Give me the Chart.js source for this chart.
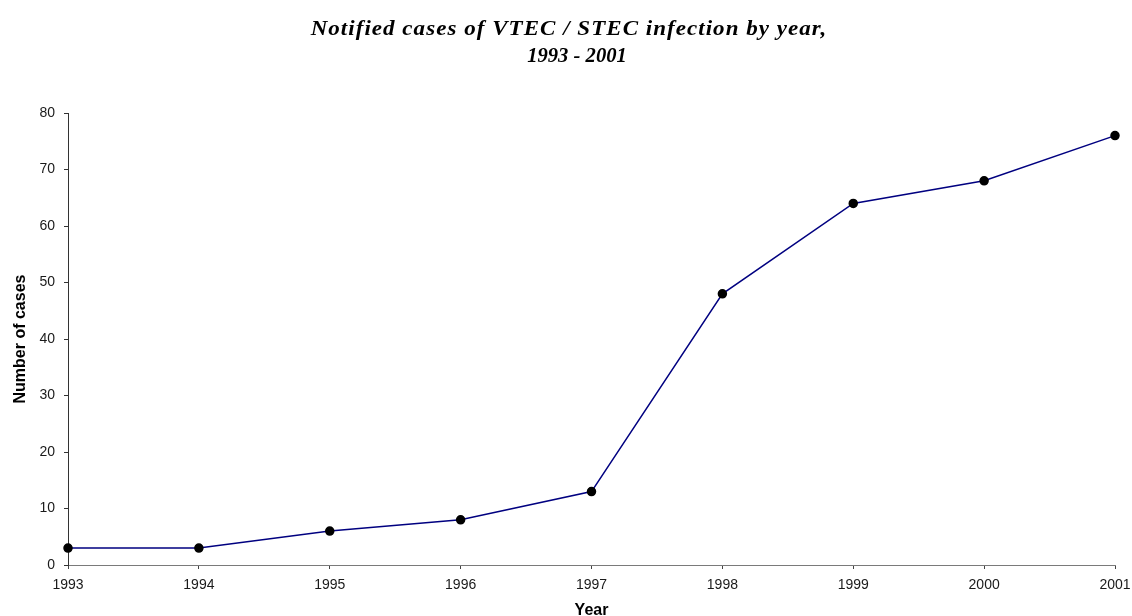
<!DOCTYPE html>
<html>
<head>
<meta charset="utf-8">
<script src="https://cdn.jsdelivr.net/npm/chart.js@4/dist/chart.umd.min.js"></script>
<style>
  html, body { margin: 0; padding: 0; background: #fff; }
  #wrap { width: 1132px; height: 616px; }
</style>
</head>
<body>
<div id="wrap"><canvas id="c" width="1132" height="616"></canvas></div>
<script>
const years = ['1993', '1994', '1995', '1996', '1997', '1998', '1999', '2000', '2001'];
const cases = [3, 3, 6, 8, 13, 48, 64, 68, 76];
const titleLines = ['Notified cases of VTEC / STEC infection by year,', '1993 - 2001'];

// Two-line italic serif heading, slightly widened
const headingPlugin = {
  id: 'heading',
  afterDraw(chart) {
    const ctx = chart.ctx;
    const specs = [
      { text: titleLines[0], x: 569, y: 35, stretch: 1.15, spacing: '0.9px' },
      { text: titleLines[1], x: 577, y: 62, stretch: 1.03, spacing: '0px' }
    ];
    ctx.save();
    ctx.fillStyle = '#000';
    ctx.font = 'italic bold 20px "Liberation Serif"';
    ctx.textAlign = 'center';
    ctx.textBaseline = 'alphabetic';
    specs.forEach(s => {
      ctx.save();
      if ('letterSpacing' in ctx) ctx.letterSpacing = s.spacing;
      ctx.translate(s.x, s.y);
      ctx.scale(s.stretch, 1);
      ctx.fillText(s.text, 0, 0);
      ctx.restore();
    });
    ctx.restore();
  }
};

new Chart(document.getElementById('c'), {
  type: 'line',
  data: {
    labels: years,
    datasets: [{
      data: cases,
      borderColor: '#000080',
      borderWidth: 1.5,
      pointBackgroundColor: '#000',
      pointBorderColor: '#000',
      pointRadius: 4,
      pointHoverRadius: 4,
      tension: 0,
      clip: false
    }]
  },
  plugins: [headingPlugin],
  options: {
    responsive: false,
    animation: false,
    layout: { padding: { left: 0, right: 0, top: 113, bottom: 0 } },
    plugins: {
      legend: { display: false },
      tooltip: { enabled: false },
      title: { display: false }
    },
    scales: {
      x: {
        offset: false,
        border: { display: true, color: '#7a7a7a', width: 1 },
        grid: { display: true, drawOnChartArea: false, drawTicks: true, tickLength: 4, color: '#444' },
        ticks: { color: '#1a1a1a', font: { family: 'Liberation Sans', size: 14 }, padding: 8, maxRotation: 0, autoSkip: false },
        title: { display: true, text: 'Year', color: '#000', font: { family: 'Liberation Sans', size: 16, weight: 'bold', lineHeight: 0.75 }, padding: { top: 0, bottom: -1 } },
        afterFit: s => { s.height = 51; s.paddingRight = 17; s.paddingLeft = 0; }
      },
      y: {
        min: 0, max: 80,
        border: { display: true, color: '#333', width: 1 },
        grid: { display: true, drawOnChartArea: false, drawTicks: true, tickLength: 4, color: '#333' },
        ticks: { stepSize: 10, color: '#1a1a1a', font: { family: 'Liberation Sans', size: 14 }, padding: 9 },
        title: { display: true, text: 'Number of cases', color: '#000', font: { family: 'Liberation Sans', size: 16, weight: 'bold', lineHeight: 0.75 }, padding: { top: 15, bottom: 0 } },
        afterFit: s => { s.width = 68; }
      }
    }
  }
});
</script>
</body>
</html>
